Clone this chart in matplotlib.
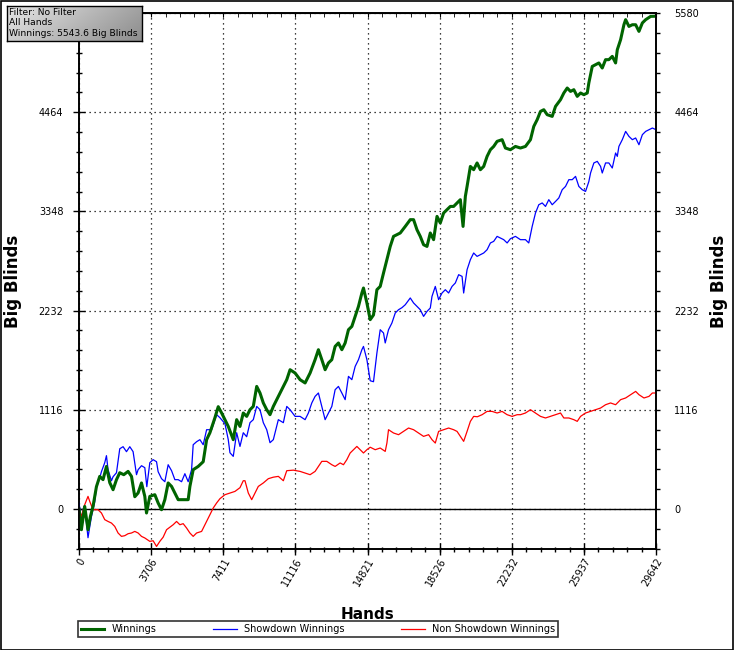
import numpy as np
import matplotlib
matplotlib.use('Agg')
import matplotlib.pyplot as plt
from matplotlib.ticker import AutoMinorLocator
from matplotlib.patches import Rectangle

# ---- data (hands, big blinds) ----
win_hands = [0, 123, 293, 463, 587, 720, 895, 1065, 1235, 1410, 1580, 1750, 1925, 2094, 2300,
             2522, 2697, 2866, 3036, 3211, 3381, 3468, 3638, 3896, 4065, 4240, 4410, 4580, 4755,
             4925, 5095, 5352, 5609, 5697, 5866, 6124, 6381, 6556, 6726, 6983, 7153, 7328, 7498,
             7668, 7925, 8100, 8270, 8439, 8614, 8784, 8954, 9129, 9299, 9469, 9644, 9813, 9983,
             10241, 10498, 10673, 10843, 11100, 11357, 11615, 11872, 12129, 12299, 12474, 12644,
             12814, 12988, 13158, 13328, 13503, 13673, 13843, 14017, 14187, 14357, 14532, 14614,
             14790, 14960, 15129, 15304, 15474, 15644, 15819, 15989, 16158, 16333, 16503, 16761,
             17018, 17188, 17362, 17532, 17702, 17877, 18047, 18217, 18392, 18561, 18731, 18906,
             19076, 19246, 19421, 19591, 19730, 19848, 19936, 20106, 20275, 20450, 20620, 20790,
             20965, 21135, 21304, 21479, 21736, 21906, 22164, 22421, 22678, 22936, 23193, 23363,
             23538, 23708, 23878, 24052, 24310, 24480, 24737, 24907, 25081, 25251, 25421, 25596,
             25766, 25935, 26110, 26192, 26367, 26537, 26707, 26881, 27051, 27221, 27396, 27566,
             27654, 27824, 27994, 28082, 28252, 28427, 28597, 28766, 28941, 29111, 29368, 29642]
win_bb = [0, -233, 29, -233, -83, 29, 251, 367, 330, 479, 296, 217, 330, 408, 386,
          423, 367, 138, 180, 293, 142, -45, 142, 161, 68, -8, 105, 293, 254,
          180, 105, 105, 105, 254, 442, 479, 532, 780, 858, 1027, 1151, 1080, 1005,
          929, 780, 1005, 929, 1080, 1042, 1117, 1154, 1379, 1305, 1193, 1117, 1061, 1154,
          1267, 1379, 1455, 1567, 1530, 1455, 1418, 1530, 1680, 1792, 1680, 1567,
          1643, 1680, 1829, 1868, 1792, 1868, 2017, 2054, 2167, 2279, 2430, 2486,
          2318, 2130, 2183, 2467, 2504, 2655, 2805, 2954, 3067, 3086, 3105, 3179,
          3255, 3255, 3142, 3067, 2973, 2954, 3105, 3030, 3292, 3218, 3330, 3367,
          3404, 3404, 3443, 3480, 3179, 3517, 3629, 3854, 3817, 3893, 3817, 3854,
          3967, 4042, 4079, 4136, 4155, 4061, 4042, 4079, 4061, 4079, 4155, 4304,
          4380, 4473, 4492, 4436, 4417, 4529, 4605, 4680, 4736, 4698, 4717, 4642,
          4680, 4661, 4680, 4793, 4979, 4998, 5018, 4961, 5055, 5055, 5092, 5018,
          5167, 5280, 5448, 5505, 5429, 5448, 5448, 5373, 5468, 5505, 5542, 5544]

sd_hands = [0, 123, 242, 381, 463, 551, 638, 808, 895, 1065, 1153, 1323, 1410, 1492, 1667,
            1750, 1925, 2094, 2264, 2439, 2609, 2779, 2954, 3036, 3211, 3381, 3484, 3638, 3808,
            3983, 4065, 4240, 4410, 4580, 4755, 4925, 5095, 5270, 5439, 5609, 5784, 5866, 6041,
            6211, 6381, 6556, 6813, 7071, 7240, 7498, 7668, 7755, 7925, 8100, 8270, 8439, 8614,
            8784, 8954, 9129, 9299, 9469, 9644, 9813, 9983, 10241, 10498, 10673, 10843, 11100,
            11357, 11615, 11784, 11959, 12129, 12299, 12474, 12644, 12814, 12988, 13158, 13328,
            13503, 13673, 13843, 14017, 14187, 14357, 14532, 14614, 14790, 14960, 15129, 15304,
            15474, 15644, 15731, 15901, 16076, 16246, 16416, 16591, 16761, 17018, 17188, 17362,
            17532, 17702, 17877, 18047, 18134, 18304, 18474, 18649, 18819, 18989, 19164, 19334,
            19504, 19679, 19761, 19936, 20106, 20275, 20450, 20620, 20790, 20965, 21135, 21304,
            21479, 21649, 21819, 21994, 22164, 22421, 22678, 22936, 23106, 23281, 23451, 23620,
            23795, 23965, 24135, 24310, 24480, 24650, 24824, 24994, 25164, 25339, 25509, 25678,
            25853, 26023, 26193, 26280, 26450, 26625, 26795, 26881, 27051, 27221, 27396, 27566,
            27654, 27736, 27911, 28082, 28252, 28427, 28597, 28766, 28941, 29111, 29281, 29456,
            29642]
sd_bb = [71, -120, 26, -154, -323, -200, -87, 82, 240, 352, 420, 521, 600, 442, 318,
         363, 408, 678, 701, 645, 701, 645, 386, 442, 487, 465, 251, 521, 555,
         532, 420, 341, 307, 498, 431, 330, 330, 307, 397, 307, 442, 723, 757,
         780, 723, 892, 892, 1061, 1027, 960, 780, 633, 592, 858, 704, 858, 813,
         971, 1005, 1154, 1117, 971, 892, 746, 780, 1005, 971, 1154, 1117, 1042,
         1042, 1005, 1080, 1193, 1267, 1305, 1154, 1005, 1080, 1154, 1342, 1379,
         1305, 1230, 1492, 1455, 1604, 1680, 1792, 1829, 1680, 1443, 1432, 1755,
         2017, 1980, 1868, 2017, 2093, 2205, 2242, 2265, 2298, 2374, 2318, 2279,
         2242, 2167, 2223, 2261, 2392, 2504, 2355, 2430, 2467, 2430, 2504, 2543,
         2636, 2617, 2430, 2692, 2805, 2880, 2842, 2861, 2880, 2917, 2993, 3011,
         3067, 3049, 3030, 2993, 3041, 3067, 3030, 3030, 2993, 3179, 3330, 3423,
         3443, 3404, 3480, 3423, 3460, 3499, 3592, 3629, 3705, 3705, 3742, 3629,
         3592, 3573, 3685, 3780, 3893, 3911, 3854, 3780, 3893, 3893, 3836, 4005,
         3967, 4079, 4155, 4248, 4192, 4155, 4174, 4098, 4211, 4248, 4267, 4286,
         4267]

nsd_hands = [0, 123, 293, 463, 551, 720, 978, 1153, 1323, 1492, 1667, 1837, 2007, 2182, 2352,
             2522, 2697, 2866, 3036, 3211, 3381, 3638, 3808, 3983, 4153, 4323, 4498, 4667, 4837,
             5012, 5182, 5352, 5527, 5697, 5866, 6041, 6299, 6556, 6726, 6896, 7071, 7240, 7498,
             7755, 8012, 8270, 8439, 8527, 8697, 8872, 9042, 9211, 9469, 9726, 9983, 10241,
             10498, 10673, 11013, 11357, 11615, 11872, 12129, 12299, 12474, 12731, 12988, 13158,
             13416, 13586, 13759, 13930, 14100, 14275, 14445, 14614, 14790, 14960, 15217, 15474,
             15731, 15819, 15901, 16158, 16416, 16673, 16930, 17188, 17445, 17702, 17960, 18134,
             18304, 18474, 18731, 18989, 19246, 19421, 19591, 19761, 19936, 20106, 20275, 20466,
             20708, 20965, 21222, 21479, 21736, 21994, 22251, 22509, 22678, 22936, 23193, 23451,
             23708, 23965, 24222, 24480, 24737, 24907, 25164, 25421, 25596, 25766, 26023, 26280,
             26537, 26795, 27051, 27309, 27566, 27824, 28082, 28339, 28597, 28766, 29024, 29281,
             29456, 29642]
nsd_bb = [-8, -83, 48, 142, 86, -8, -8, -45, -120, -140, -158, -196, -270, -308, -300,
          -278, -270, -252, -270, -308, -326, -364, -357, -421, -364, -317, -233, -205, -177,
          -140, -177, -165, -214, -270, -308, -270, -252, -140, -64, 11, 68, 116, 161,
          180, 198, 240, 318, 318, 180, 105, 180, 254, 293, 341, 358, 367,
          318, 431, 437, 423, 405, 386, 423, 479, 536, 536, 498, 479,
          518, 498, 555, 630, 667, 704, 667, 630, 667, 695, 667, 686,
          648, 743, 892, 855, 836, 873, 911, 892, 855, 817, 836, 780,
          742, 873, 892, 911, 892, 873, 817, 761, 873, 986, 1042, 1038,
          1061, 1098, 1098, 1080, 1098, 1061, 1042, 1061, 1061, 1080, 1117, 1080,
          1042, 1024, 1042, 1061, 1080, 1024, 1024, 1005, 986, 1042, 1080, 1098,
          1117, 1136, 1173, 1193, 1173, 1230, 1249, 1286, 1323, 1286, 1249, 1267,
          1305, 1305]

x_ticks = [0, 3706, 7411, 11116, 14821, 18526, 22232, 25937, 29642]
y_ticks = [0, 1116, 2232, 3348, 4464, 5580]
info_lines = ['Filter: No Filter', 'All Hands', 'Winnings: 5543.6 Big Blinds']

W, H = 734, 650
fig = plt.figure(figsize=(W / 100, H / 100), dpi=100)
ax = fig.add_axes([79 / W, 1 - 549 / H, 577 / W, 536 / H])

ax.plot(win_hands, win_bb, color='#006400', lw=2.2, label='Winnings', zorder=4)
ax.plot(sd_hands, sd_bb, color='#0000ff', lw=0.9, label='Showdown Winnings', zorder=3)
ax.plot(nsd_hands, nsd_bb, color='#ff0000', lw=0.9, label='Non Showdown Winnings', zorder=3)
ax.axhline(0, color='black', lw=1.0, zorder=2)

ax.set_xlim(0, 29642)
ax.set_ylim(-450, 5580)
ax.set_xticks(x_ticks)
ax.set_xticklabels([str(t) for t in x_ticks], rotation=60, ha='right',
                   rotation_mode='anchor', fontsize=7)
ax.set_yticks(y_ticks)
# top-left label sits under the info box in the original, so leave it blank
ax.set_yticklabels([str(t) for t in y_ticks[:-1]] + [''], fontsize=7)
ax.xaxis.set_minor_locator(AutoMinorLocator(5))
ax.yaxis.set_minor_locator(AutoMinorLocator(5))
ax.tick_params(which='major', direction='inout', length=8.5, width=1)
ax.tick_params(axis='x', which='minor', direction='inout', length=3.6, width=1)
ax.tick_params(axis='y', which='minor', direction='inout', length=5, width=1)
ax.tick_params(axis='y', pad=7)
ax.tick_params(axis='x', pad=1)
ax.grid(True, which='major', color='black', linestyle=(0, (1, 3)), lw=0.9)

# right axis copy
ax2 = ax.twinx()
ax2.set_ylim(ax.get_ylim())
ax2.set_yticks(y_ticks)
ax2.set_yticklabels([str(t) for t in y_ticks], fontsize=7)
ax2.yaxis.set_minor_locator(AutoMinorLocator(5))
ax2.tick_params(which='both', direction='out', length=3.2, width=1, pad=10)
ax2.set_ylabel('Big Blinds', fontsize=12, fontweight='bold', rotation=90)
ax2.yaxis.set_label_coords(1.094, 0.5)

# top ticks
top = ax.secondary_xaxis('top')
top.set_xticks(x_ticks)
top.xaxis.set_minor_locator(AutoMinorLocator(5))
top.tick_params(which='both', direction='in', length=3, labeltop=False)

for a in (ax, ax2):
    for s in a.spines.values():
        s.set_linewidth(1.2)

ax.set_xlabel('Hands', fontsize=11, fontweight='bold')
ax.xaxis.set_label_coords(0.5, -0.108)
ax.set_ylabel('Big Blinds', fontsize=12, fontweight='bold')
ax.yaxis.set_label_coords(-0.099, 0.5)

leg = fig.legend(loc='upper left', bbox_to_anchor=(78 / W, 1 - 621 / H), ncol=3,
                 fontsize=7, frameon=True, fancybox=False, edgecolor='black',
                 borderpad=0.3, handlelength=2.4, handletextpad=0.8, columnspacing=5.8,
                 borderaxespad=0)
leg.get_frame().set_linewidth(1.2)

# info box with grey gradient
bax = fig.add_axes([7 / W, 1 - 41 / H, 135 / W, 35 / H])
gx, gy = np.meshgrid(np.linspace(0, 1, 200), np.linspace(0, 1, 40))
shade = 0.9 - 0.35 * (0.75 * gx + 0.25 * gy)
bax.imshow(np.dstack([shade, shade, shade]), aspect='auto', extent=(0, 1, 0, 1))
bax.set_xticks([])
bax.set_yticks([])
for s in bax.spines.values():
    s.set_linewidth(1.0)
for i, line in enumerate(info_lines):
    bax.text(0.015, 0.82 - i * 0.3, line, fontsize=6.6, va='center', ha='left',
             transform=bax.transAxes)

# outer frame
fig.patches.append(Rectangle((0.5 / W, 0.5 / H), 1 - 1.5 / W, 1 - 1.5 / H, fill=False,
                             edgecolor='black', lw=1.2, transform=fig.transFigure))

fig.savefig('out.png', dpi=100, facecolor='white')
